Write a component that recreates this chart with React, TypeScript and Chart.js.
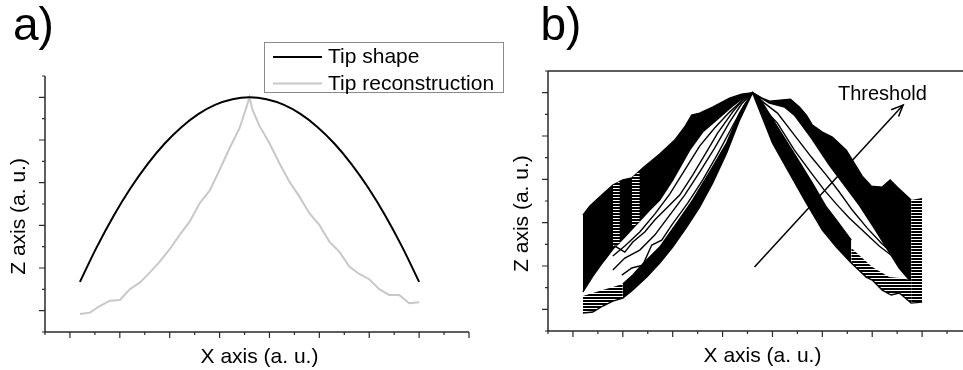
import React, { useEffect, useRef } from "react";
import { Chart, registerables } from "chart.js";

Chart.register(...registerables);

type P = [number, number];

// ---------- axes (arbitrary units) ----------
const X_MIN = -25;
const X_MAX_A = 400;
const X_MAX_B = 391;
const Y_MIN = -21.5;
const Y_MAX = 236.5;
const X_MINOR_STEP = 25;
const X_MAJOR_STEP = 50;
const Y_MINOR_STEP = 21.5;
const Y_MAJOR_STEP = 43;

// ---------- texts ----------
const PANEL_LABELS = ["a)", "b)"];
const X_TITLE = "X axis (a. u.)";
const Z_TITLE = "Z axis (a. u.)";
const SERIES_LABELS = ["Tip shape", "Tip reconstruction"];
const THRESHOLD_LABEL = "Threshold";

// ---------- panel a ----------
const TIP_SHAPE: P[] = [
  [10, 29.0], [27, 64.3], [44, 96.0], [61, 123.9], [78, 148.0], [95, 168.5], [112, 185.2],
  [129, 198.3], [146, 207.6], [163, 213.1], [180, 215.0], [197, 213.1], [214, 207.6],
  [231, 198.3], [248, 185.2], [265, 168.5], [282, 148.0], [299, 123.9], [316, 96.0],
  [333, 64.3], [350, 29.0],
];
const TIP_RECONSTRUCTION: P[] = [
  [10, -3.3], [20, -2.0], [30, 4.7], [40, 10.1], [50, 10.8], [60, 21.6], [70, 28.2],
  [80, 38.3], [90, 49.4], [100, 61.9], [110, 76.3], [120, 89.7], [130, 108.3], [140, 121.0],
  [150, 141.8], [160, 163.7], [170, 183.9], [175, 199.0], [180, 215.0], [183, 202.3],
  [190, 186.2], [200, 168.7], [210, 148.6], [220, 130.0], [230, 114.9], [240, 98.2],
  [250, 86.4], [260, 69.6], [270, 59.5], [280, 44.4], [290, 37.0], [300, 31.7], [310, 21.6],
  [320, 15.8], [330, 15.8], [340, 7.5], [350, 8.5],
];

// ---------- panel b : family of reconstructions ----------
const B_UPPER_TOP: P[] = [
  [10, 93.5], [17, 102.5], [30, 114.4], [40, 123.3], [50, 128.3], [59, 130.3], [70, 140.2],
  [87, 154.1], [102, 167.9], [112, 180.9], [119, 192.7], [127, 194.7], [140, 200.7],
  [157, 209.6], [169, 213.6], [180, 215.0], [189, 209.8], [197, 206.6], [208, 207.6],
  [218, 208.6], [227, 200.7], [234, 192.7], [240, 182.8], [250, 175.9], [260, 170.9],
  [274, 158.0], [290, 132.2], [299, 122.3], [310, 121.3], [318, 128.3], [325, 121.3],
  [339, 108.4],
];
const B_UPPER_BOTTOM: P[] = [
  [10, 17.2], [20, 33.0], [30, 46.9], [40, 59.8], [50, 69.7], [64, 84.6], [77, 98.5],
  [87, 108.4], [100, 128.3], [117, 158.0], [130, 175.9], [144, 187.8], [160, 201.7],
  [169, 208.6], [180, 215.0], [197, 204.6], [212, 200.7], [222, 192.7], [239, 169.9],
  [257, 143.1], [272, 123.3], [287, 103.4], [302, 80.6], [317, 56.8], [327, 41.0],
  [339, 27.1],
];
const B_LOWER_BOTTOM: P[] = [
  [10, -3.7], [20, -2.7], [30, 3.3], [40, 8.2], [50, 11.2], [60, 19.1], [74, 32.0],
  [87, 45.9], [100, 61.8], [114, 81.6], [127, 101.5], [140, 125.3], [154, 155.0],
  [167, 187.8], [180, 215.0], [200, 165.0], [217, 135.2], [234, 105.4], [250, 78.7],
  [264, 61.8], [279, 45.9], [294, 32.0], [300, 29.1], [310, 19.1], [319, 14.2], [327, 16.2],
  [332, 12.2], [339, 6.2], [350, 7.2],
];
const B_LOWER_TOP: P[] = [
  [50, 25.1], [60, 34.0], [70, 44.9], [87, 61.8], [104, 85.6], [120, 108.4], [137, 136.2],
  [154, 165.0], [167, 194.7], [180, 215.0], [187, 209.8], [207, 177.9], [224, 151.1],
  [240, 125.3], [254, 101.5], [264, 88.6], [279, 68.7],
];
const B_HATCH_LEFT_TOP: P[] = [[10, 13.2], [20, 16.2], [30, 19.1], [40, 22.1], [50, 25.1]];
const B_HATCH_RIGHT_TOP: P[] = [[279, 60.8], [300, 42.0], [317, 32.0], [327, 31.0], [339, 29.1]];
const B_END_COLUMN_TOP: P[] = [[339, 108.4], [350, 110.4]];
const B_STRIP1_TOP: P[] = [[40, 123.3], [47, 126.8]];
const B_STRIP1_BOTTOM: P[] = [[40, 61.8], [47, 65.0]];
const B_STRIP2_TOP: P[] = [[59, 130.3], [67, 137.5]];
const B_STRIP2_BOTTOM: P[] = [[59, 81.6], [67, 86.6]];
const B_THIN_1: P[] = [
  [30, 46.9], [42, 62.8], [52, 56.8], [60, 66.8], [72, 76.7], [82, 88.6], [94, 100.5],
  [107, 113.4], [120, 133.2], [132, 153.1], [145, 174.9], [160, 195.7], [172, 209.6], [180, 215.0],
];
const B_THIN_2: P[] = [
  [40, 39.0], [52, 50.9], [67, 58.8], [82, 73.7], [97, 93.5], [112, 113.4], [127, 136.2],
  [142, 160.0], [157, 185.8], [169, 203.7], [180, 215.0],
];
const B_THIN_3: P[] = [
  [49, 34.0], [59, 41.0], [70, 43.9], [79, 63.8], [89, 68.7], [99, 83.6], [115, 105.4],
  [130, 128.3], [145, 154.1], [159, 179.9], [171, 201.7], [180, 215.0],
];
const B_THIN_4: P[] = [
  [180, 215.0], [192, 204.6], [205, 194.7], [222, 172.9], [239, 151.1], [254, 133.2],
  [267, 116.4], [280, 98.5], [295, 80.6], [309, 65.8], [322, 53.9], [332, 46.9], [339, 42.9],
];
const B_THIN_5: P[] = [
  [180, 215.0], [190, 200.7], [205, 184.8], [222, 158.0], [239, 135.2], [252, 118.3],
  [265, 103.4], [277, 90.6], [292, 76.7], [307, 62.8], [320, 52.9], [332, 45.9], [339, 39.0],
];
const B_THIN_6: P[] = [
  [40, 52.9], [52, 62.8], [67, 76.7], [82, 94.5], [97, 114.4], [112, 138.2], [127, 162.0],
  [142, 179.9], [157, 195.7], [169, 206.6], [180, 215.0],
];
const ARROW_SHAFT: P[] = [[182, 42.0], [331, 202.7]];
const ARROW_HEAD: P[] = [[319, 198.1], [331, 202.7], [326.4, 191.4]];

const FONT = '"Liberation Sans", Arial, Helvetica, sans-serif';
const AXIS_COLOR = "#2a2a2a";

const pts = (a: P[]) => a.map(([x, y]) => ({ x, y }));

const decoPlugin = {
  id: "deco",
  afterDraw(chart: any, _args: any, o: any) {
    const { ctx, chartArea: ca, scales } = chart;
    const xs = scales.x;
    const ys = scales.y;
    ctx.save();
    ctx.strokeStyle = AXIS_COLOR;
    ctx.lineWidth = 1.5;
    ctx.beginPath();
    ctx.moveTo(ca.left, ca.top);
    ctx.lineTo(ca.left, ca.bottom);
    ctx.lineTo(ca.right, ca.bottom);
    if (o.frameTop) {
      ctx.moveTo(ca.left, ca.top);
      ctx.lineTo(ca.right, ca.top);
    }
    ctx.stroke();
    ctx.lineWidth = 1.2;
    ctx.beginPath();
    for (let v = xs.min; v <= xs.max + 1e-6; v += X_MINOR_STEP) {
      const px = xs.getPixelForValue(v);
      const major = Math.abs(v % X_MAJOR_STEP) < 1e-6;
      ctx.moveTo(px, ca.bottom);
      ctx.lineTo(px, ca.bottom + (major ? 6 : 3));
    }
    for (let v = ys.min; v <= ys.max + 1e-6; v += Y_MINOR_STEP) {
      const py = ys.getPixelForValue(v);
      const major = Math.abs(v % Y_MAJOR_STEP) < 1e-6;
      ctx.moveTo(ca.left, py);
      ctx.lineTo(ca.left - (major ? 6 : 3), py);
    }
    ctx.stroke();
    ctx.fillStyle = "#000";
    ctx.font = `21px ${FONT}`;
    ctx.textAlign = "center";
    ctx.textBaseline = "alphabetic";
    ctx.fillText(X_TITLE, xs.getPixelForValue(190), ca.bottom + 30.5);
    ctx.save();
    ctx.translate(ca.left - 20, ys.getPixelForValue(95));
    ctx.rotate(-Math.PI / 2);
    ctx.fillText(Z_TITLE, 0, 0);
    ctx.restore();
    ctx.textAlign = "left";
    ctx.font = `46px ${FONT}`;
    ctx.fillText(o.panel, ca.left + o.panelDx, 40);
    if (o.legend) {
      ctx.strokeStyle = "#8a8a8a";
      ctx.lineWidth = 1;
      ctx.strokeRect(264.5, 42.5, 239, 50);
      ctx.font = `21px ${FONT}`;
      chart.data.datasets.forEach((ds: any, i: number) => {
        const y = 57 + i * 26.5;
        ctx.strokeStyle = ds.borderColor;
        ctx.lineWidth = 2;
        ctx.beginPath();
        ctx.moveTo(273, y);
        ctx.lineTo(322, y);
        ctx.stroke();
        ctx.fillStyle = "#000";
        ctx.fillText(ds.label, 328, y + 6.3);
      });
    }
    if (o.threshold) {
      ctx.font = `20px ${FONT}`;
      ctx.fillStyle = "#000";
      ctx.fillText(THRESHOLD_LABEL, 838, 99.5);
    }
    ctx.restore();
  },
};

const baseOptions = (xMax: number, padding: any, deco: any) => ({
  responsive: false,
  maintainAspectRatio: false,
  animation: false as const,
  devicePixelRatio: 1,
  events: [] as any[],
  layout: { padding },
  scales: {
    x: { type: "linear" as const, min: X_MIN, max: xMax, display: false },
    y: { type: "linear" as const, min: Y_MIN, max: Y_MAX, display: false },
  },
  plugins: {
    legend: { display: false },
    tooltip: { enabled: false },
    deco,
  },
});

const line = (data: P[], extra: any = {}) => ({
  data: pts(data),
  borderColor: "#000",
  borderWidth: 1.4,
  pointRadius: 0,
  tension: 0,
  fill: false,
  ...extra,
});

export default function App() {
  const refA = useRef<HTMLCanvasElement>(null);
  const refB = useRef<HTMLCanvasElement>(null);

  useEffect(() => {
    const pc = document.createElement("canvas");
    pc.width = 4;
    pc.height = 3;
    const pctx = pc.getContext("2d")!;
    pctx.fillStyle = "#fff";
    pctx.fillRect(0, 0, 4, 3);
    pctx.fillStyle = "#000";
    pctx.fillRect(0, 0, 4, 2);
    const hatch = refB.current!.getContext("2d")!.createPattern(pc, "repeat");
    const none = "rgba(0,0,0,0)";
    const hatchFill = (target: number) => ({
      fill: target, backgroundColor: hatch, borderWidth: 0, borderColor: none, order: 8,
    });

    const chartA = new Chart(refA.current!, {
      type: "line",
      data: {
        datasets: [
          line(TIP_SHAPE, { label: SERIES_LABELS[0], borderColor: "#000", borderWidth: 2, tension: 0.35 }),
          line(TIP_RECONSTRUCTION, { label: SERIES_LABELS[1], borderColor: "#c8c8c8", borderWidth: 2 }),
        ],
      },
      options: baseOptions(X_MAX_A, { left: 45, top: 76, right: 494, bottom: 38 }, {
        panel: PANEL_LABELS[0], panelDx: -32, legend: true, frameTop: false, threshold: false,
      }),
      plugins: [decoPlugin],
    } as any);

    const chartB = new Chart(refB.current!, {
      type: "line",
      data: {
        datasets: [
          /*0*/ line(B_UPPER_TOP, { fill: 1, backgroundColor: "#000", order: 10 }),
          /*1*/ line(B_UPPER_BOTTOM, { order: 10 }),
          /*2*/ line(B_LOWER_BOTTOM, { order: 5 }),
          /*3*/ line(B_LOWER_TOP, { fill: 2, backgroundColor: "#000", order: 10 }),
          /*4*/ line(B_HATCH_LEFT_TOP, hatchFill(2)),
          /*5*/ line(B_HATCH_RIGHT_TOP, hatchFill(2)),
          /*6*/ line(B_END_COLUMN_TOP, hatchFill(2)),
          /*7*/ line(B_STRIP1_TOP, hatchFill(8)),
          /*8*/ line(B_STRIP1_BOTTOM, { borderWidth: 0, borderColor: none, order: 8 }),
          /*9*/ line(B_STRIP2_TOP, hatchFill(10)),
          /*10*/ line(B_STRIP2_BOTTOM, { borderWidth: 0, borderColor: none, order: 8 }),
          line(B_THIN_1, { order: 2 }),
          line(B_THIN_2, { order: 2 }),
          line(B_THIN_3, { order: 2 }),
          line(B_THIN_4, { order: 2 }),
          line(B_THIN_5, { order: 2 }),
          line(B_THIN_6, { order: 2 }),
          line(ARROW_SHAFT, { borderWidth: 1.5, order: 0 }),
          line(ARROW_HEAD, { borderWidth: 1.5, order: 0 }),
        ],
      },
      options: baseOptions(X_MAX_B, { left: 548, top: 71, right: 0, bottom: 39 }, {
        panel: PANEL_LABELS[1], panelDx: -7.5, legend: false, frameTop: true, threshold: true,
      }),
      plugins: [decoPlugin],
    } as any);

    return () => {
      chartA.destroy();
      chartB.destroy();
    };
  }, []);

  return (
    <div style={{ position: "absolute", left: 0, top: 0, width: 963, height: 370, background: "#fff", overflow: "hidden" }}>
      <canvas ref={refA} width={963} height={370} style={{ position: "absolute", left: 0, top: 0 }} />
      <canvas ref={refB} width={963} height={370} style={{ position: "absolute", left: 0, top: 0 }} />
    </div>
  );
}
